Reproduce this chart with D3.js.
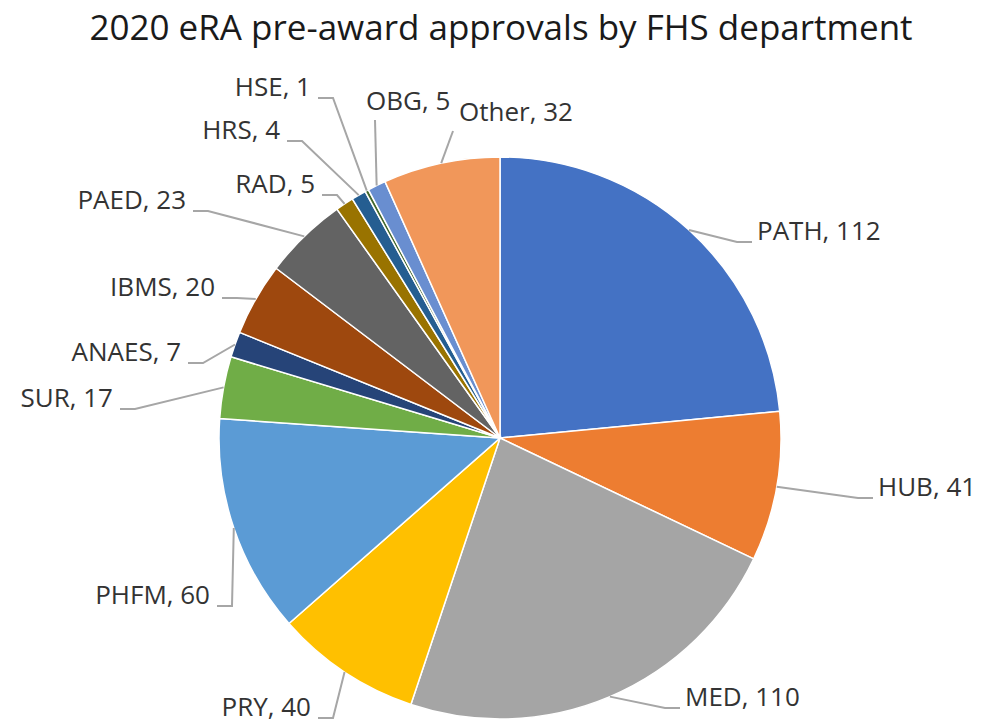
<!DOCTYPE html>
<html>
<head>
<meta charset="utf-8">
<script src="https://cdn.jsdelivr.net/npm/d3@7/dist/d3.min.js"></script>
<style>
  body { margin: 0; background: #fff; }
  text { font-family: "Open Sans", "Noto Sans", sans-serif; }
</style>
</head>
<body>
<svg id="chart" width="998" height="726"></svg>
<script>
// chart data
var departments = ["PATH", "HUB", "MED", "PRY", "PHFM", "SUR", "ANAES", "IBMS", "PAED", "RAD", "HRS", "HSE", "OBG", "Other"];
var approvals = [112, 41, 110, 40, 60, 17, 7, 20, 23, 5, 4, 1, 5, 32];
var sliceColors = ["#4472C4", "#ED7D31", "#A5A5A5", "#FFC000", "#5B9BD5", "#70AD47", "#264478",
                   "#9E480E", "#636363", "#997300", "#255E91", "#43682B", "#698ED0", "#F1975A"];

// where Excel put each data label: leader end point, which side the text sits on
// (top labels also give the left edge of the text)
var labelEnds = [
  [752, 242, "right"], [873, 498, "right"], [680, 708, "right"], [318, 718, "left"],
  [217, 606, "left"], [120, 409, "left"], [188, 363, "left"], [222, 298, "left"],
  [193, 211, "left"], [322, 195, "left"], [287, 141, "left"], [318, 98, "left"],
  [375, 120, "top", 366], [453, 131, "top", 459]
];

var svg = d3.select("#chart");
var cx = 500, cy = 438, radius = 281;

svg.append("text")
  .attr("x", 501)
  .attr("y", 40)
  .attr("text-anchor", "middle")
  .attr("fill", "#1a1a1a")
  .style("font-size", "35px")
  .text("2020 eRA pre-award approvals by FHS department");

var rows = departments.map(function(d, i) { return {name: d, value: approvals[i], i: i}; });

var pie = d3.pie().sort(null).value(function(d) { return d.value; });
var arc = d3.arc().innerRadius(0).outerRadius(radius);
var arcs = pie(rows);

var g = svg.append("g").attr("transform", "translate(" + cx + "," + cy + ")");

g.selectAll("path.slice")
  .data(arcs)
  .enter().append("path")
  .attr("class", "slice")
  .attr("d", arc)
  .attr("fill", function(d) { return sliceColors[d.data.i]; })
  .attr("stroke", "#fff")
  .attr("stroke-width", 1.5);

// leader lines + labels
arcs.forEach(function(d) {
  var pos = labelEnds[d.data.i];
  var mid = (d.startAngle + d.endAngle) / 2;
  var sx = cx + radius * Math.sin(mid), sy = cy - radius * Math.cos(mid);
  var pts;
  if (pos[2] == "top") {
    pts = [[sx, sy], [pos[0], pos[1]]];
  } else {
    var elbow = pos[2] == "right" ? pos[0] - 15 : pos[0] + 15;
    pts = [[sx, sy], [elbow, pos[1]], [pos[0], pos[1]]];
  }
  svg.append("path")
    .attr("d", d3.line()(pts))
    .attr("fill", "none")
    .attr("stroke", "#a6a6a6")
    .attr("stroke-width", 2);

  var t = svg.append("text")
    .attr("fill", "#333333")
    .style("font-size", "26px")
    .text(d.data.name + ", " + d.data.value);
  if (pos[2] == "right") {
    t.attr("x", pos[0] + 5).attr("y", pos[1] - 2).attr("text-anchor", "start");
  } else if (pos[2] == "left") {
    t.attr("x", pos[0] - 7).attr("y", pos[1] - 2).attr("text-anchor", "end");
  } else {
    t.attr("x", pos[3]).attr("y", pos[1] - 10).attr("text-anchor", "start");
  }
});
</script>
</body>
</html>
